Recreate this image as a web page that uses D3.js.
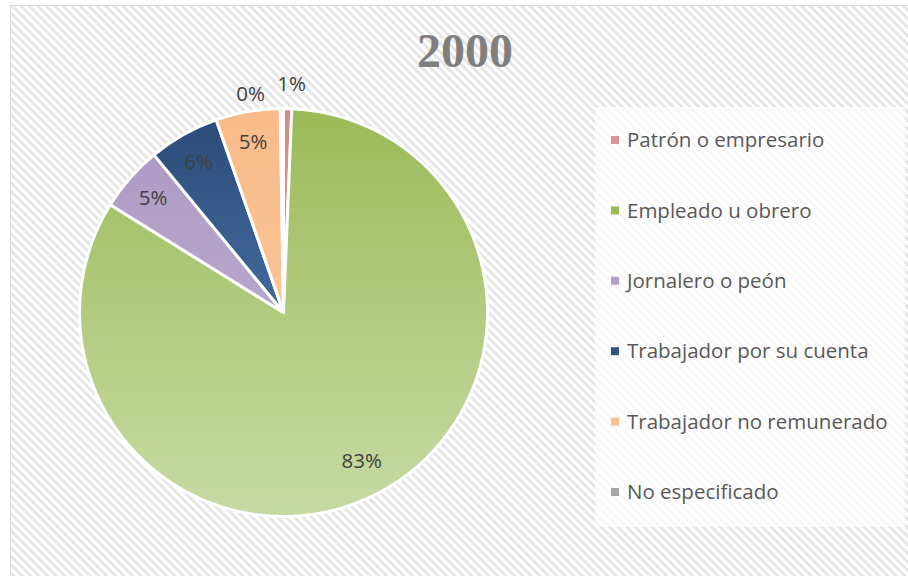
<!DOCTYPE html>
<html lang="es">
<head>
<meta charset="UTF-8">
<title>2000</title>
<script src="https://cdn.jsdelivr.net/npm/d3@7/dist/d3.min.js"></script>
<style>
  html, body { margin: 0; padding: 0; background: #fff; }
  svg { display: block; }
</style>
</head>
<body>
<svg id="chart" width="908" height="576"></svg>
<script>
// data (percent of total)
const categories = ["Patrón o empresario", "Empleado u obrero", "Jornalero o peón",
  "Trabajador por su cuenta", "Trabajador no remunerado", "No especificado"];
const shares = [0.65, 83.2, 5.2, 5.6, 5.1, 0.25];
const title = "2000";

// top / bottom gradient colours of each slice, and legend swatch colours
const topColors = ["#d48c8a", "#9bbb59", "#ab98c2", "#2a4a76", "#f9bb88", "#a0a0a0"];
const bottomColors = ["#e0a8a6", "#c8daa4", "#c4b7d6", "#5a8ac6", "#fccda6", "#b8b8b8"];
const swatchColors = ["#d99694", "#9bbb59", "#b3a2c7", "#2f5586", "#fac08f", "#a6a6a6"];

const svg = d3.select("#chart");
const W = 908, H = 576;

// hatched background
const defs = svg.append("defs");
defs.append("pattern")
  .attr("id", "hatch")
  .attr("patternUnits", "userSpaceOnUse")
  .attr("width", 6).attr("height", 6)
  .attr("patternTransform", "rotate(45)")
  .call(p => {
    p.append("rect").attr("width", 6).attr("height", 6).attr("fill", "#fff");
    p.append("rect").attr("width", 6).attr("height", 3).attr("fill", "#e6e6e6");
  });

svg.append("rect").attr("width", W).attr("height", H).attr("fill", "#fff");
svg.append("rect")
  .attr("x", 10.5).attr("y", 5.5)
  .attr("width", W + 10).attr("height", H + 10)
  .attr("fill", "url(#hatch)")
  .attr("stroke", "#d9d9d9").attr("stroke-width", 1);

// title
svg.append("text")
  .attr("x", 465).attr("y", 67)
  .attr("text-anchor", "middle")
  .attr("font-family", "'Liberation Serif', serif")
  .attr("font-weight", "bold")
  .attr("font-size", 48)
  .attr("fill", "#7f7f7f")
  .text(title);

// pie
const cx = 283.5, cy = 312.5, r = 204;
const total = d3.sum(shares);
const data = categories.map((c, i) => ({ name: c, value: shares[i], i }));

const pie = d3.pie().sort(null).value(d => d.value);
const arcs = pie(data);
const arc = d3.arc().innerRadius(0).outerRadius(r);

data.forEach((d, i) => {
  const g = defs.append("linearGradient")
    .attr("id", "grad" + i)
    .attr("gradientUnits", "userSpaceOnUse")
    .attr("x1", 0).attr("y1", -r).attr("x2", 0).attr("y2", r);
  g.append("stop").attr("offset", "0%").attr("stop-color", topColors[i]);
  g.append("stop").attr("offset", "100%").attr("stop-color", bottomColors[i]);
});

const gPie = svg.append("g").attr("transform", `translate(${cx},${cy})`);
gPie.selectAll("path").data(arcs).enter().append("path")
  .attr("d", arc)
  .attr("fill", d => `url(#grad${d.data.i})`)
  .attr("stroke", "#fff")
  .attr("stroke-width", 3)
  .attr("stroke-linejoin", "round");

// labels: big slices inside, tiny ones outside
const inner = d3.arc().innerRadius(r * 0.85).outerRadius(r * 0.85);
const labelArc = d => {
  if (d.data.i === 1) return d3.arc().innerRadius(r * 0.82).outerRadius(r * 0.82).centroid(d);
  if (d.data.i === 0) return [8, -r - 25];
  if (d.data.i === 5) return [-33, -r - 15];
  return inner.centroid(d);
};
gPie.selectAll("text.lbl").data(arcs).enter().append("text")
  .attr("class", "lbl")
  .attr("transform", d => `translate(${labelArc(d)})`)
  .attr("text-anchor", "middle")
  .attr("dy", "0.35em")
  .attr("font-family", "'Open Sans', sans-serif")
  .attr("font-size", 20.5)
  .attr("fill", "#404040")
  .text(d => Math.round(d.data.value / total * 100) + "%");

// legend
const legend = svg.append("g");
legend.append("rect")
  .attr("x", 595).attr("y", 107).attr("width", 310).attr("height", 420)
  .attr("fill", "#fff").attr("fill-opacity", 0.7);

const rowY = d3.scalePoint().domain(categories).range([140, 492]);
const rows = legend.selectAll("g.row").data(categories).enter().append("g")
  .attr("class", "row")
  .attr("transform", d => `translate(611,${rowY(d)})`);
rows.append("rect")
  .attr("x", 0).attr("y", -4).attr("width", 8).attr("height", 8)
  .attr("fill", (d, i) => swatchColors[i]);
rows.append("text")
  .attr("x", 16).attr("dy", "0.35em")
  .attr("font-family", "'Open Sans', sans-serif")
  .attr("font-size", 20.5)
  .attr("fill", "#595959")
  .text(d => d);
</script>
</body>
</html>
